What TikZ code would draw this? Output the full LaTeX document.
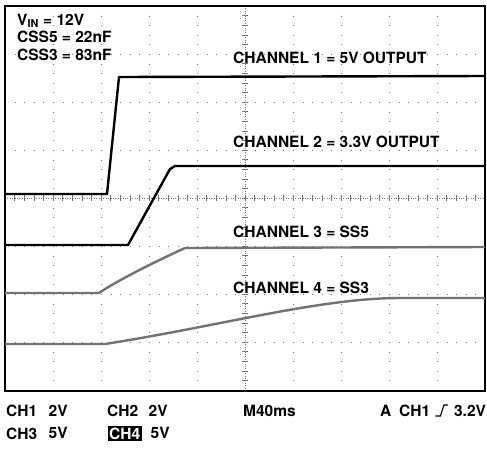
\documentclass[tikz,border=0pt]{standalone}
\usepackage{fontspec}
\setmainfont{TeX Gyre Heros}
\usetikzlibrary{positioning}

\begin{document}
\begin{tikzpicture}[x=1pt,y=-1pt,font=\fontsize{15.5}{18}\selectfont\bfseries]
\tikzstyle{lbl}=[inner sep=0pt,anchor=base west]
\tikzstyle{grat}=[black!55,line width=0.7pt,dash pattern=on 0.9pt off 8.7pt]
\tikzstyle{axis}=[black!55,line width=0.6pt,dash pattern=on 0.8pt off 1.6pt]
\tikzstyle{trace}=[line width=2.4pt,line join=round]
\useasboundingbox (0,0) rectangle (487,448);

%-- Graticule --
\foreach \x in {53,101,149,197,293,341,389,437}
  \draw[grat] (\x,6) -- (\x,391);
\foreach \y in {54,102,150,246,294,342}
  \draw[grat] (5,\y) -- (485,\y);
\draw[axis] (245,6) -- (245,391);
\draw[axis] (5,198) -- (485,198);
\foreach \k in {1,...,39} {
  \draw[black!55,line width=0.6pt] (242,6+9.6*\k) -- (248,6+9.6*\k);
}
\foreach \k in {1,...,49} {
  \draw[black!55,line width=0.6pt] (5+9.6*\k,195) -- (5+9.6*\k,201);
}
\draw[line width=1.8pt] (5,6) rectangle (485,391);

%-- Traces --
\draw[trace] (5,194) -- (107,194) -- (119,77) -- (485,76);
\draw[trace] (5,245) -- (128,245) -- (170,169) -- (175,166) -- (485,166);
\draw[trace,black!55] (5,293) -- (99,293)
  .. controls (115,282) and (150,264) .. (185,248) -- (485,247);
\draw[trace,black!55] (5,344) -- (105,344)
  .. controls (220,326) and (320,298) .. (400,298) -- (485,298);

%-- Setup --
\node[lbl] (vin) at (17,25) {V\textsubscript{IN} = 12V};
\node[lbl] (css5) at (17,42.5) {CSS5 = 22nF};
\node[lbl] (css3) at (17,60) {CSS3 = 83nF};

%-- Channel names --
\node[lbl] (ch1n) at (233,63) {CHANNEL 1 = 5V OUTPUT};
\node[lbl] (ch2n) at (233,147) {CHANNEL 2 = 3.3V OUTPUT};
\node[lbl] (ch3n) at (233,237) {CHANNEL 3 = SS5};
\node[lbl] (ch4n) at (233,293) {CHANNEL 4 = SS3};

%-- Readout --
\node[lbl] (ch1) at (6,416) {CH1};
\node[inner sep=0pt] (ch1v) [right=11pt of ch1] {2V};
\node[lbl] (ch2) at (107,416) {CH2};
\node[inner sep=0pt] (ch2v) [right=10pt of ch2] {2V};
\node[lbl] (ch3) at (6,439) {CH3};
\node[inner sep=0pt] (ch3v) [right=11pt of ch3] {5V};
\node[lbl,fill=black,text=white,inner sep=1.5pt] (ch4) at (107.5,439) {CH4};
\node[inner sep=0pt] (ch4v) [right=8.5pt of ch4] {5V};
\node[lbl] (tb) at (243,416) {M40ms};
\node[lbl] (trg) at (380,416) {A\enspace CH1};
\coordinate (e0) at ([xshift=5pt]trg.base east);
\coordinate (e1) at ([xshift=5pt]e0);
\coordinate (e2) at ([xshift=3.5pt,yshift=11pt]e1);
\coordinate (e3) at ([xshift=4pt]e2);
\draw[line width=1.1pt] (e0) -- (e1) -- (e2) -- (e3);
\node[lbl] (trgv) at ([xshift=6pt,yshift=-11pt]e3) {3.2V};
\end{tikzpicture}
\end{document}
